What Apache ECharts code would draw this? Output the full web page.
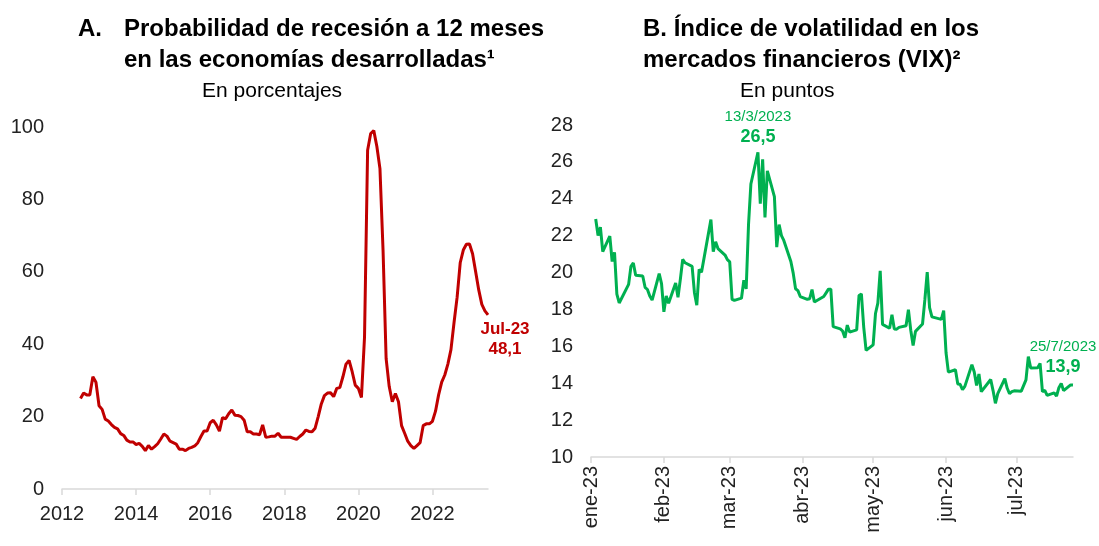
<!DOCTYPE html>
<html>
<head>
<meta charset="utf-8">
<script src="https://cdn.jsdelivr.net/npm/echarts@6/dist/echarts.min.js"></script>
<style>
  html, body { margin: 0; padding: 0; background: #fff; }
  #chart { width: 1099px; height: 546px; }
</style>
</head>
<body>
<div id="chart"></div>
<script>
// A. probabilidad de recesion, mensual desde jul-2012
var recStart = [2012, 7];
var recValues = [
  25, 26.5, 26, 26, 31, 29.5,
  23, 22, 19.3, 18.8, 17.8, 17, 16.6, 15.3, 14.8, 13.5, 13, 13,
  12.3, 12.6, 11.8, 10.6, 12, 11, 11.7, 12.5, 13.8, 15.2, 14.6, 13.2,
  12.8, 12.4, 11, 11, 10.6, 11.2, 11.5, 11.9, 12.8, 14.5, 16, 16,
  18.3, 19, 17.7, 16, 19.7, 19.4, 20.8, 21.8, 20.4, 20.3, 20, 19,
  15.8, 15.8, 15.2, 15.2, 15, 17.7, 14.3, 14.4, 14.6, 14.6, 15.4, 14.3,
  14.3, 14.3, 14.3, 14, 13.7, 14.5, 15.2, 16.3, 15.9, 15.8, 16.8, 20,
  23.5, 25.8, 26.5, 26.6, 25.5, 27.8, 28, 31, 34.5, 35.5, 32.4, 28.7,
  27.8, 25.3, 42, 93.6, 98.2, 99, 94.6, 88.5, 66, 36, 28.3, 24.1,
  26.4, 24.1, 17.5, 15.4, 13.2, 12, 11.2, 12, 12.8, 17.5, 18, 18,
  18.7, 21.5, 26, 29.5, 31.5, 34.5, 38.5, 46, 53, 62.5, 66, 67.6,
  67.7, 65, 60, 55, 51, 49.2, 48.1
];
var recYearTicks = [2012, 2014, 2016, 2018, 2020, 2022];

// B. VIX diario 2023
var vixDates = [
  '2023-01-03','2023-01-04','2023-01-05','2023-01-06','2023-01-09','2023-01-10','2023-01-11','2023-01-12','2023-01-13',
  '2023-01-17','2023-01-18','2023-01-19','2023-01-20','2023-01-23','2023-01-24','2023-01-25','2023-01-26','2023-01-27',
  '2023-01-30','2023-01-31',
  '2023-02-01','2023-02-02','2023-02-03','2023-02-06','2023-02-07','2023-02-08','2023-02-09','2023-02-10','2023-02-13',
  '2023-02-14','2023-02-15','2023-02-16','2023-02-17','2023-02-21','2023-02-22','2023-02-23','2023-02-24','2023-02-27',
  '2023-02-28',
  '2023-03-01','2023-03-02','2023-03-03','2023-03-06','2023-03-07','2023-03-08','2023-03-09','2023-03-10','2023-03-13',
  '2023-03-14','2023-03-15','2023-03-16','2023-03-17','2023-03-20','2023-03-21','2023-03-22','2023-03-23','2023-03-24',
  '2023-03-27','2023-03-28','2023-03-29','2023-03-30','2023-03-31',
  '2023-04-03','2023-04-04','2023-04-05','2023-04-06','2023-04-10','2023-04-11','2023-04-12','2023-04-13','2023-04-14',
  '2023-04-17','2023-04-18','2023-04-19','2023-04-20','2023-04-21','2023-04-24','2023-04-25','2023-04-26','2023-04-27',
  '2023-04-28',
  '2023-05-01','2023-05-02','2023-05-03','2023-05-04','2023-05-05','2023-05-08','2023-05-09','2023-05-10','2023-05-11',
  '2023-05-12','2023-05-15','2023-05-16','2023-05-17','2023-05-18','2023-05-19','2023-05-22','2023-05-23','2023-05-24',
  '2023-05-25','2023-05-26','2023-05-30','2023-05-31',
  '2023-06-01','2023-06-02','2023-06-05','2023-06-06','2023-06-07','2023-06-08','2023-06-09','2023-06-12','2023-06-13',
  '2023-06-14','2023-06-15','2023-06-16','2023-06-20','2023-06-21','2023-06-22','2023-06-23','2023-06-26','2023-06-27',
  '2023-06-28','2023-06-29','2023-06-30',
  '2023-07-03','2023-07-05','2023-07-06','2023-07-07','2023-07-10','2023-07-11','2023-07-12','2023-07-13','2023-07-14',
  '2023-07-17','2023-07-18','2023-07-19','2023-07-20','2023-07-21','2023-07-24','2023-07-25'
];
var vixValues = [
  22.90, 22.01, 22.46, 21.13, 21.97, 20.60, 21.10, 18.83, 18.35,
  19.36, 20.34, 20.52, 19.85, 19.81, 19.20, 19.08, 18.73, 18.51,
  19.94, 19.40,
  17.87, 18.73, 18.33, 19.43, 18.66, 19.63, 20.71, 20.53, 20.34,
  18.91, 18.23, 20.17, 20.02, 22.87, 21.14, 21.67, 21.30, 20.95,
  20.70,
  20.58, 18.55, 18.49, 18.61, 19.59, 19.11, 22.61, 24.80, 26.52,
  23.73, 26.14, 22.99, 25.51, 24.12, 21.38, 22.60, 22.00, 21.74,
  20.60, 19.97, 19.12, 19.02, 18.70,
  18.55, 18.58, 19.08, 18.40, 18.70, 18.90, 19.10, 19.10, 17.07,
  16.95, 16.83, 16.46, 17.15, 16.77, 16.89, 18.76, 18.84, 17.03,
  15.78,
  16.08, 17.78, 18.34, 20.09, 17.19, 16.98, 17.71, 16.94, 16.93,
  17.03, 17.12, 17.99, 16.87, 16.05, 16.81, 17.21, 18.53, 20.03,
  18.10, 17.60, 17.46, 17.94,
  15.65, 14.60, 14.73, 13.96, 13.94, 13.65, 13.83, 15.01, 14.61,
  13.88, 14.50, 13.54, 14.20, 13.60, 12.91, 13.44, 14.25, 13.74,
  13.43, 13.54, 13.59,
  13.57, 14.18, 15.44, 14.83, 14.84, 15.07, 13.54, 13.61, 13.34,
  13.48, 13.30, 13.76, 13.99, 13.60, 13.91, 13.90
];
var vixMonthTicks = ['2023-01-01','2023-02-01','2023-03-01','2023-04-01','2023-05-01','2023-06-01','2023-07-01'];
var vixMonthNames = ['ene', 'feb', 'mar', 'abr', 'may', 'jun', 'jul', 'ago', 'sep', 'oct', 'nov', 'dic'];
var vixRange = ['2023-01-01', '2023-07-25'];

var RED = '#C00000';
var GREEN = '#00B050';
var FONT = '"Liberation Sans", Arial, sans-serif';
var AXIS_GRAY = '#d9d9d9';

function coma(v) {
  return v.toFixed(1).replace('.', ',');
}

function ts(s) {
  var p = s.split('-');
  return Date.UTC(+p[0], +p[1] - 1, +p[2]);
}

function diaMesAnio(s) {
  var p = s.split('-');
  return (+p[2]) + '/' + (+p[1]) + '/' + p[0];
}

var recData = recValues.map(function (v, i) {
  var m = recStart[1] - 1 + i;
  return [recStart[0] + m / 12, v];
});
var recLast = recData[recData.length - 1];
var lastYear = recStart[0] + Math.floor((recStart[1] - 1 + recValues.length - 1) / 12);
var recLastLabel = 'Jul-' + String(lastYear).slice(2);

var vixData = vixDates.map(function (d, i) { return [ts(d), vixValues[i]]; });
var iMax = vixValues.indexOf(Math.max.apply(null, vixValues));
var iLast = vixValues.length - 1;

var chart = echarts.init(document.getElementById('chart'), null, { renderer: 'canvas' });

var titleStyle = { fontFamily: FONT, fontWeight: 'bold', fontSize: 24, color: '#000', lineHeight: 31 };
var subStyle = { fontFamily: FONT, fontWeight: 'normal', fontSize: 21, color: '#000', lineHeight: 22 };

var option = {
  animation: false,
  backgroundColor: '#fff',
  textStyle: { fontFamily: FONT },
  title: [
    { text: 'A.', left: 78, top: 14, padding: 0, textStyle: titleStyle },
    { text: 'Probabilidad de recesión a 12 meses\nen las economías desarrolladas¹', left: 124, top: 14, padding: 0, textStyle: titleStyle },
    { text: 'En porcentajes', left: 202, top: 80, padding: 0, textStyle: subStyle },
    { text: 'B. Índice de volatilidad en los\nmercados financieros (VIX)²', left: 643, top: 14, padding: 0, textStyle: titleStyle },
    { text: 'En puntos', left: 740, top: 80, padding: 0, textStyle: subStyle }
  ],
  grid: [
    { left: 62, top: 127, width: 426, height: 362, containLabel: false },
    { left: 591, top: 125, width: 482, height: 332, containLabel: false }
  ],
  xAxis: [
    {
      gridIndex: 0,
      type: 'value',
      min: 2012,
      max: 2023.5,
      axisLine: { show: true, lineStyle: { color: AXIS_GRAY, width: 1.5 } },
      axisTick: { show: true, customValues: recYearTicks, length: 6, lineStyle: { color: AXIS_GRAY, width: 1.5 } },
      axisLabel: {
        customValues: recYearTicks,
        fontSize: 20,
        color: '#222',
        margin: 15,
        formatter: function (v) { return String(Math.round(v)); }
      },
      splitLine: { show: false }
    },
    {
      gridIndex: 1,
      type: 'value',
      min: ts(vixRange[0]),
      max: ts(vixRange[1]),
      axisLine: { show: true, lineStyle: { color: AXIS_GRAY, width: 1.5 } },
      axisTick: { show: true, customValues: vixMonthTicks.map(ts), length: 6, lineStyle: { color: AXIS_GRAY, width: 1.5 } },
      axisLabel: {
        customValues: vixMonthTicks.map(ts),
        rotate: 90,
        fontSize: 20,
        color: '#222',
        margin: 9,
        formatter: function (val) {
          var d = new Date(val);
          return vixMonthNames[d.getUTCMonth()] + '-' + String(d.getUTCFullYear()).slice(2);
        }
      },
      splitLine: { show: false }
    }
  ],
  yAxis: [
    {
      gridIndex: 0,
      type: 'value',
      min: 0,
      max: 100,
      interval: 20,
      axisLine: { show: false },
      axisTick: { show: false },
      axisLabel: { fontSize: 20, color: '#222', margin: 18 },
      splitLine: { show: false }
    },
    {
      gridIndex: 1,
      type: 'value',
      min: 10,
      max: 28,
      interval: 2,
      axisLine: { show: false },
      axisTick: { show: false },
      axisLabel: { fontSize: 20, color: '#222', margin: 18 },
      splitLine: { show: false }
    }
  ],
  series: [
    {
      name: 'Probabilidad de recesión',
      type: 'line',
      xAxisIndex: 0,
      yAxisIndex: 0,
      data: recData,
      showSymbol: false,
      symbol: 'none',
      lineStyle: { color: RED, width: 3 },
      markPoint: {
        symbol: 'circle',
        symbolSize: 0,
        data: [{
          coord: recLast,
          label: {
            show: true,
            position: 'inside',
            offset: [17, 24],
            formatter: '{a|' + recLastLabel + '}\n{a|' + coma(recLast[1]) + '}',
            rich: { a: { fontFamily: FONT, fontSize: 17, fontWeight: 'bold', color: RED, lineHeight: 20, align: 'center' } }
          }
        }]
      }
    },
    {
      name: 'VIX',
      type: 'line',
      xAxisIndex: 1,
      yAxisIndex: 1,
      data: vixData,
      showSymbol: false,
      symbol: 'none',
      lineStyle: { color: GREEN, width: 3 },
      markPoint: {
        symbol: 'circle',
        symbolSize: 0,
        data: [
          {
            coord: vixData[iMax],
            label: {
              show: true,
              position: 'inside',
              offset: [0, -25],
              formatter: '{d|' + diaMesAnio(vixDates[iMax]) + '}\n{v|' + coma(vixValues[iMax]) + '}',
              rich: {
                d: { fontFamily: FONT, fontSize: 15, color: GREEN, lineHeight: 20, align: 'center' },
                v: { fontFamily: FONT, fontSize: 18, fontWeight: 'bold', color: GREEN, lineHeight: 20, align: 'center' }
              }
            }
          },
          {
            coord: vixData[iLast],
            label: {
              show: true,
              position: 'inside',
              offset: [-10, -28],
              formatter: '{d|' + diaMesAnio(vixDates[iLast]) + '}\n{v|' + coma(vixValues[iLast]) + '}',
              rich: {
                d: { fontFamily: FONT, fontSize: 15, color: GREEN, lineHeight: 20, align: 'center' },
                v: { fontFamily: FONT, fontSize: 18, fontWeight: 'bold', color: GREEN, lineHeight: 20, align: 'center' }
              }
            }
          }
        ]
      }
    }
  ]
};

chart.setOption(option);
</script>
</body>
</html>
